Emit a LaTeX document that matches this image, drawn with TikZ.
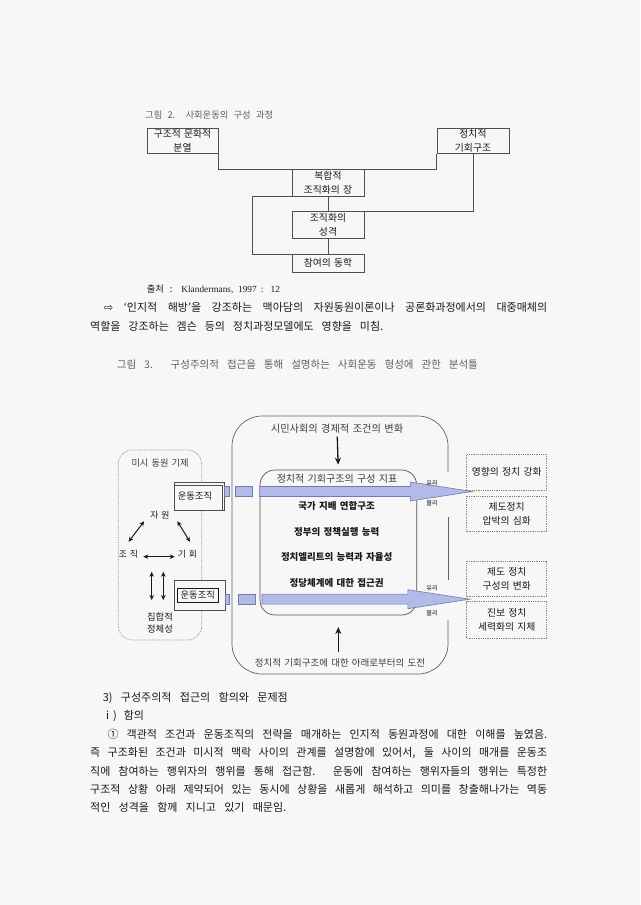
\documentclass[tikz,border=0pt]{standalone}
\usepackage{fontspec}
\setmainfont{Noto Sans CJK KR}[WordSpace={1.5,1.5,1.5}]
\newfontfamily\latinserif{Liberation Serif}
\newfontfamily\dejavu{DejaVu Sans}
\usetikzlibrary{arrows.meta,calc}

\definecolor{paper}{RGB}{247,247,247}
\definecolor{ink}{RGB}{25,25,25}
\definecolor{capgray}{RGB}{95,95,95}
\definecolor{linegray}{RGB}{80,80,80}
\definecolor{arrblue}{RGB}{178,186,232}
\definecolor{arredge}{RGB}{115,122,165}
\definecolor{boxbrown}{RGB}{150,128,112}

\newcommand\jline[2]{\makebox[#1][s]{#2}}
\newcommand\fatarrow[2]{% #1 start of the shaft, #2 tip
  \filldraw[fill=arrblue,draw=arredge,line width=0.6pt]
    ($(#1)+(0,-5)$) -- ($(#2)+(-62,-5)$) -- ($(#2)+(-62,-9.5)$) -- (#2)
    -- ($(#2)+(-62,9.5)$) -- ($(#2)+(-62,5)$) -- ($(#1)+(0,5)$) -- cycle;}

\begin{document}
\begin{tikzpicture}[x=1pt,y=-1pt,
  every node/.style={inner sep=0pt,text=ink},
  fbox/.style={draw=linegray,fill=paper,minimum width=72.6,align=center,font=\fontsize{9.8}{13.4}\selectfont},
  link/.style={draw=linegray,line width=0.6pt},
  outbox/.style={draw=boxbrown,densely dotted,line width=0.8pt,fill=paper,minimum width=80,minimum height=35.7,align=center,font=\fontsize{9.8}{13.5}\selectfont},
  orgbox/.style={draw=linegray,fill=paper,line width=0.6pt},
  item/.style={font=\bfseries\fontsize{9.5}{9.5}\selectfont},
  body/.style={anchor=west,font=\fontsize{11}{11}\selectfont},
  dbl/.style={{Stealth[length=5pt,width=4.5pt]}-{Stealth[length=5pt,width=4.5pt]},line width=1pt,draw=ink},
  push/.style={-{Stealth[length=7pt,width=6pt]},line width=1.3pt,draw=ink}]
  \fill[paper] (0,0) rectangle (640,905);
  \useasboundingbox (0,0) rectangle (640,905);

  % figure 2
  \node[anchor=west,text=capgray,font=\fontsize{9.3}{9.3}\selectfont] (cap2) at (145,115) {\jline{128pt}{그림 2. 사회운동의 구성 과정}};
  \node[fbox,minimum width=71.6,minimum height=25] (split) at (182.5,140.8) {구조적 문화적\\분열};
  \node[fbox,minimum height=25] (pos) at (473,140.8) {정치적\\기회구조};
  \node[fbox,minimum height=26.7] (field) at (328,182.7) {복합적\\조직화의 장};
  \node[fbox,minimum height=26.7] (nature) at (328,225) {조직화의\\성격};
  \node[fbox,minimum height=17.7] (dyn) at (328,262.9) {참여의 동학};
  \draw[link] (split.south east) |- (field.north) -| (pos.south west);
  \draw[link] (pos.south) |- (nature.north east);
  \draw[link] (field) -- (nature);
  \draw[link] (nature) -- (dyn);
  \draw[link] (field.south west) -- ++(-39,0) |- (dyn.north west);
  \node[anchor=west,font=\fontsize{9.3}{9.3}\selectfont] (src) at (146.7,289) {\jline{133pt}{출처 : {\latinserif\fontsize{9.3}{9.3}\selectfont Klandermans, 1997 : 12}}};

  % paragraph between the figures
  \node[body] (p1a) at (104,307.7) {\jline{443pt}{{\dejavu ⇨} ‘인지적 해방’을 강조하는 맥아담의 자원동원이론이나 공론화과정에서의 대중매체의}};
  \node[body] (p1b) at (90,326.7) {\jline{293pt}{역할을 강조하는 겜슨 등의 정치과정모델에도 영향을 미침.}};

  % figure 3
  \node[anchor=west,text=capgray,font=\fontsize{10.5}{10.5}\selectfont] (cap3) at (116.7,365) {\jline{361pt}{그림 3. 구성주의적 접근을 통해 설명하는 사회운동 형성에 관한 분석틀}};
  \draw[draw=linegray!90,line width=0.7pt,rounded corners=30] (448,620) -- (448,674) -- (232,674) -- (232,416) -- (448,416) -- (448,472); % the outer frame
  \draw[draw=linegray!90,line width=0.7pt] (448,517) -- (448,580);
  \draw[draw=gray,densely dotted,line width=0.7pt,rounded corners=14] (118.3,450) rectangle (201.7,640); % micro panel
  \node[draw=linegray,line width=0.7pt,rounded corners=15,minimum width=156.7,minimum height=145] (ind) at (338.3,542.5) {};

  \node[text=ink!85,font=\fontsize{10.2}{10.2}\selectfont] (civ) at (337,428.3) {시민사회의 경제적 조건의 변화};
  \node[text=ink!85,font=\fontsize{10}{10}\selectfont] (ttl) at (337,478.3) {정치적 기회구조의 구성 지표};
  \node[item] (it1) at (336.7,506) {국가 지배 연합구조};
  \node[item] (it2) at (336.7,532.3) {정부의 정책실행 능력};
  \node[item] (it3) at (336.7,556.7) {정치엘리트의 능력과 자율성};
  \node[item] (it4) at (336.7,583.3) {정당체계에 대한 접근권};
  \node[text=ink!85,font=\fontsize{9.5}{9.5}\selectfont] (chal) at (340,663) {정치적 기회구조에 대한 아래로부터의 도전};
  \draw[push,shorten <=3.5pt,shorten >=5pt] (civ) -- (ind.north);
  \draw[push,shorten <=6.7pt,shorten >=11.7pt] (chal.north -| ind) -- (ind.south);

  \node[text=ink!85,font=\fontsize{9.2}{9.2}\selectfont] (mtitle) at (160,462.7) {미시 동원 기제};
  \node[orgbox,minimum width=50,minimum height=27.8] (mo1) at (199,496.6) {};
  \draw[linegray] ($(mo1.north west)+(0,3)$) -- ($(mo1.north east)+(-2.5,3)$) -- ($(mo1.south east)+(-2.5,0)$);
  \node[font=\fontsize{9.3}{9.3}\selectfont] (mo1t) at (195,496) {운동조직};
  \node[orgbox,minimum width=51,minimum height=29.3] (mo2) at (199.5,595.3) {};
  \node[draw=ink,line width=0.6pt,minimum width=41,minimum height=14,font=\fontsize{9.3}{9.3}\selectfont] (mo2t) at (197.8,595.3) {운동조직};

  \node[font=\fontsize{8.8}{8.8}\selectfont] (res) at (160,515) {자 원};
  \node[font=\fontsize{8.8}{8.8}\selectfont] (orgz) at (128.5,554) {조 직};
  \node[font=\fontsize{8.8}{8.8}\selectfont] (opp) at (187.5,554) {기 회};
  \node[align=center,font=\fontsize{9.3}{12.6}\selectfont] (ident) at (160,623) {집합적\\정체성};
  \draw[dbl] ($(res.south west)+(-6,2)$) -- ($(orgz.north)+(0,-8)$);
  \draw[dbl] ($(res.south east)+(7.5,2)$) -- ($(opp.north)+(2.5,-8)$);
  \draw[dbl] ($(orgz.east)+(5,2.7)$) -- ($(opp.west)+(-3,2.7)$);
  \draw[dbl] ($(ident.north)+(-8.3,-40.5)$) -- ($(ident.north)+(-8.3,-12.2)$);
  \draw[dbl] ($(ident.north)+(3.3,-40.5)$) -- ($(ident.north)+(3.3,-12.2)$);

  \node[outbox] (infl) at (506.7,472.2) {영향의 정치 강화};
  \node[outbox] (press) at (506.7,513.8) {제도정치\\압박의 심화};
  \node[outbox] (recomp) at (506.7,578.8) {제도 정치\\구성의 변화};
  \node[outbox,minimum height=36.6] (delay) at (506.7,620) {진보 정치\\세력화의 지체};

  \coordinate (tipA) at ($(infl.south west)!.5!(press.north west)+(6,-1.5)$);
  \coordinate (tipB) at ($(recomp.south west)!.5!(delay.north west)+(3.5,0)$);
  \coordinate (a1) at (mo1.east |- tipA);
  \coordinate (a2) at (mo2.east |- tipB);
  \coordinate (b1) at ($(a1)+(35.3,0)$);
  \coordinate (b2) at ($(a2)+(36.7,0)$);
  \filldraw[fill=arrblue,draw=arredge,line width=0.5pt] ($(a1)+(0,-5)$) rectangle ($(a1)+(4.5,5)$);
  \filldraw[fill=arrblue,draw=arredge,line width=0.5pt] ($(a1)+(11,-5)$) rectangle ($(a1)+(27.7,5)$);
  \filldraw[fill=arrblue,draw=arredge,line width=0.5pt] ($(a2)+(0,-5)$) rectangle ($(a2)+(4,5)$);
  \filldraw[fill=arrblue,draw=arredge,line width=0.5pt] ($(a2)+(13,-5)$) rectangle ($(a2)+(30,5)$);
  \fatarrow{b1}{tipA}
  \fatarrow{b2}{tipB}

  \node[font=\fontsize{6.2}{6.2}\selectfont] (favA) at (432,483) {유리};
  \node[font=\fontsize{6.2}{6.2}\selectfont] (unfA) at (432,503.5) {불리};
  \node[font=\fontsize{6.2}{6.2}\selectfont] (favB) at (432,588.5) {유리};
  \node[font=\fontsize{6.2}{6.2}\selectfont] (unfB) at (432,613) {불리};

  % text below figure 3
  \node[body] (h3) at (102.6,698) {\jline{185pt}{3) 구성주의적 접근의 함의와 문제점}};
  \node[body] (h3i) at (101.8,716.3) {\jline{42pt}{ⅰ) 함의}};
  \node[body] (l1) at (107.3,734.6) {\jline{439.7pt}{① 객관적 조건과 운동조직의 전략을 매개하는 인지적 동원과정에 대한 이해를 높였음.}};
  \node[body] (l2) at (90,752.9) {\jline{457pt}{즉 구조화된 조건과 미시적 맥락 사이의 관계를 설명함에 있어서, 둘 사이의 매개를 운동조}};
  \node[body] (l3) at (90,771.2) {\jline{457pt}{직에 참여하는 행위자의 행위를 통해 접근함. 운동에 참여하는 행위자들의 행위는 특정한}};
  \node[body] (l4) at (90,789.5) {\jline{457pt}{구조적 상황 아래 제약되어 있는 동시에 상황을 새롭게 해석하고 의미를 창출해나가는 역동}};
  \node[body] (l5) at (90,807.8) {\jline{196pt}{적인 성격을 함께 지니고 있기 때문임.}};
\end{tikzpicture}
\end{document}
